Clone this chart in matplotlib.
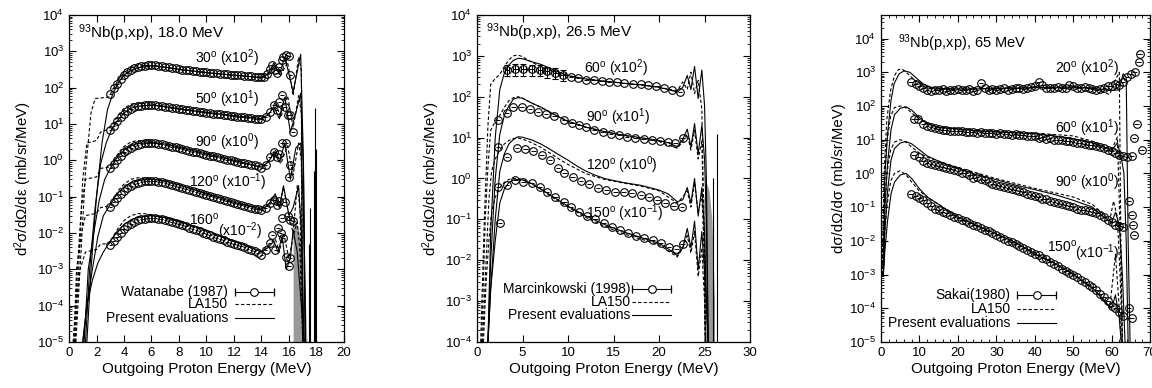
import numpy as np
import matplotlib
matplotlib.use('Agg')
import matplotlib.pyplot as plt
from matplotlib.ticker import LogLocator, NullFormatter, MultipleLocator

plt.rcParams['font.family'] = ['Liberation Sans', 'DejaVu Sans']
plt.rcParams['mathtext.default'] = 'regular'
plt.rcParams['axes.linewidth'] = 0.9

# ---------------- panel 1 : 93Nb(p,xp) 18.0 MeV, Watanabe (1987) ----------------
e1_grid = [3.0, 3.25, 3.5, 3.75, 4.0, 4.25, 4.5, 4.75, 5.0, 5.25, 5.5, 5.75, 6.0, 6.25, 6.5,
           6.75, 7.0, 7.25, 7.5, 7.75, 8.0, 8.25, 8.5, 8.75, 9.0, 9.25, 9.5, 9.75, 10.0, 10.25,
           10.5, 10.75, 11.0, 11.25, 11.5, 11.75, 12.0, 12.25, 12.5, 12.75, 13.0, 13.25, 13.5, 13.75, 14.0]
x1_30 = [68, 95, 130, 175, 220, 265, 310, 345, 370, 390, 405, 415, 420, 412, 400,
         385, 372, 360, 348, 337, 326, 315, 305, 298, 290, 283, 276, 270, 264, 258,
         252, 247, 242, 237, 232, 228, 224, 220, 216, 212, 208, 204, 200, 196, 193]
x1_50 = [6.8, 9, 12, 15.5, 19, 22.5, 26, 28.5, 30.5, 32, 33, 33.5, 33.5, 33, 32,
         31, 30, 29, 28, 27, 26, 25.2, 24.5, 23.8, 23, 22.3, 21.7, 21, 20.4, 19.8,
         19.3, 18.8, 18.3, 17.8, 17.3, 16.9, 16.5, 16, 15.6, 15.2, 14.8, 14.5, 14.1, 13.8, 13.5]
x1_90 = [0.6, 0.8, 1.05, 1.35, 1.65, 1.95, 2.25, 2.5, 2.7, 2.85, 2.95, 3.0, 3.0, 2.95, 2.85,
         2.75, 2.62, 2.5, 2.38, 2.26, 2.15, 2.04, 1.94, 1.84, 1.74, 1.65, 1.57, 1.49, 1.42, 1.35,
         1.28, 1.22, 1.16, 1.1, 1.05, 1.0, 0.95, 0.91, 0.87, 0.83, 0.79, 0.75, 0.72, 0.68, 0.62]
x1_120 = [0.053, 0.07, 0.09, 0.115, 0.14, 0.17, 0.2, 0.225, 0.245, 0.26, 0.27, 0.275, 0.275, 0.27, 0.26,
          0.25, 0.24, 0.225, 0.21, 0.198, 0.185, 0.173, 0.162, 0.151, 0.141, 0.132, 0.123, 0.115, 0.108, 0.101,
          0.095, 0.089, 0.084, 0.079, 0.074, 0.07, 0.066, 0.062, 0.059, 0.056, 0.053, 0.05, 0.047, 0.045, 0.042]
x1_160 = [0.0047, 0.0062, 0.008, 0.0102, 0.0128, 0.0155, 0.018, 0.0205, 0.0225, 0.024, 0.025, 0.026, 0.026, 0.0255, 0.025,
          0.024, 0.023, 0.0215, 0.02, 0.0188, 0.0176, 0.0164, 0.0152, 0.0141, 0.013, 0.012, 0.011, 0.0102, 0.0094, 0.0087,
          0.008, 0.0074, 0.0068, 0.0063, 0.0058, 0.0054, 0.005, 0.0046, 0.0043, 0.004, 0.0037, 0.0034, 0.0031, 0.0028, 0.0025]
# high-energy (discrete region) points
h1_30_e = [14.2, 14.4, 14.6, 14.8, 15.0, 15.1, 15.3, 15.5, 15.6, 15.8, 16.0, 16.1]
h1_30_v = [200, 240, 330, 420, 300, 250, 380, 560, 700, 780, 760, 230]
h1_50_e = [14.3, 14.6, 14.9, 15.1, 15.3, 15.5, 15.7, 15.9, 16.1, 16.3]
h1_50_v = [16, 22, 33, 24, 40, 63, 30, 18, 18, 6]
h1_90_e = [14.3, 14.6, 14.9, 15.1, 15.3, 15.5, 15.8, 16.0, 16.1]
h1_90_v = [0.75, 1.2, 1.7, 1.2, 1.5, 3.0, 3.0, 0.35, 0.75]
h1_120_e = [14.3, 14.6, 14.9, 15.1, 15.3, 15.5, 15.7, 15.9, 16.1, 16.3]
h1_120_v = [0.05, 0.065, 0.08, 0.06, 0.075, 0.026, 0.07, 0.03, 0.023, 0.022]
h1_160_e = [14.3, 14.6, 14.8, 15.0, 15.2, 15.4, 15.6, 15.8, 16.0, 16.1]
h1_160_v = [0.0035, 0.0052, 0.009, 0.0035, 0.0134, 0.01, 0.0072, 0.0022, 0.0012, 0.002]

la1_30_e = [0.5, 0.8, 1.2, 1.6, 1.9, 2.9, 3.2, 3.6, 4.0, 4.5, 5.0, 5.5, 6.0, 7.0, 8.0, 10.0, 12.0, 14.0, 14.6, 15.0, 15.4, 15.9, 16.3, 16.7, 16.9, 17.0]
la1_30_v = [1e-5, 1e-3, 0.5, 20, 50, 55, 90, 170, 260, 350, 400, 410, 400, 360, 320, 260, 220, 190, 260, 400, 220, 500, 60, 700, 300, 1e-5]
ev1_30_e = [1.3, 1.6, 2.0, 2.4, 2.8, 3.2, 3.6, 4.0, 4.5, 5.0, 6.0, 7.0, 8.0, 10.0, 12.0, 14.0, 14.5, 14.9, 15.3, 15.7, 16.3, 16.85, 17.05, 17.2]
ev1_30_v = [1e-5, 1e-3, 0.1, 3, 25, 70, 140, 220, 300, 350, 400, 365, 320, 260, 220, 190, 240, 480, 230, 700, 76, 830, 1, 1e-5]
la1_50_e = [0.45, 0.7, 1.0, 1.3, 2.0, 2.3, 2.8, 3.2, 3.6, 4.0, 4.5, 5.0, 5.5, 6.0, 8.0, 10.0, 12.0, 14.0, 14.6, 15.0, 15.4, 15.9, 16.3, 16.7, 16.9, 17.0]
la1_50_v = [1e-5, 1e-3, 0.3, 3, 3.5, 6, 7, 10, 18, 27, 35, 38, 37, 35, 27, 21, 17, 14, 20, 40, 15, 60, 8, 60, 20, 1e-5]
ev1_50_e = [1.2, 1.5, 1.9, 2.3, 2.7, 3.1, 3.5, 4.0, 4.5, 5.0, 6.0, 7.0, 8.0, 10.0, 12.0, 14.0, 14.5, 14.9, 15.3, 15.7, 16.1, 16.5, 16.85, 17.05, 17.2]
ev1_50_v = [1e-5, 1e-3, 0.05, 0.8, 3, 7, 12, 20, 27, 31, 33, 30, 26, 21, 17, 14, 18, 30, 14, 55, 6, 20, 70, 0.5, 1e-5]
la1_90_e = [0.4, 0.6, 0.9, 1.2, 2.0, 2.3, 2.9, 3.2, 3.6, 4.0, 4.5, 5.0, 5.5, 6.0, 8.0, 10.0, 12.0, 14.0, 14.6, 15.0, 15.4, 15.9, 16.3, 16.7, 16.9, 17.0]
la1_90_v = [1e-5, 1e-3, 0.05, 0.3, 0.35, 0.6, 0.65, 0.9, 1.6, 2.4, 3.2, 3.5, 3.4, 3.2, 2.3, 1.5, 1.0, 0.65, 1.0, 2.0, 0.8, 2.5, 0.4, 3, 1, 1e-5]
ev1_90_e = [1.1, 1.4, 1.8, 2.2, 2.6, 3.0, 3.5, 4.0, 4.5, 5.0, 6.0, 7.0, 8.0, 10.0, 12.0, 14.0, 14.5, 14.9, 15.3, 15.7, 16.1, 16.5, 16.85, 17.05, 17.2]
ev1_90_v = [1e-5, 1e-3, 0.01, 0.08, 0.3, 0.6, 1.2, 1.9, 2.5, 2.9, 3.1, 2.8, 2.3, 1.5, 1.0, 0.65, 0.9, 1.6, 0.9, 3.0, 0.3, 2.2, 3.0, 0.05, 1e-5]
la1_120_e = [0.35, 0.55, 0.9, 1.2, 2.0, 2.3, 2.9, 3.2, 3.6, 4.0, 4.5, 5.0, 5.5, 6.0, 8.0, 10.0, 12.0, 14.0, 14.6, 15.0, 15.3, 15.6, 16.0, 16.3, 16.6, 16.8, 17.0]
la1_120_v = [1e-5, 1e-3, 0.01, 0.03, 0.035, 0.05, 0.055, 0.08, 0.15, 0.22, 0.3, 0.33, 0.33, 0.31, 0.21, 0.12, 0.07, 0.045, 0.06, 0.1, 0.05, 0.18, 0.03, 0.01, 0.2, 0.05, 1e-5]
ev1_120_e = [1.0, 1.3, 1.7, 2.1, 2.5, 3.0, 3.5, 4.0, 4.5, 5.0, 6.0, 7.0, 8.0, 10.0, 12.0, 14.0, 14.5, 15.0, 15.3, 15.6, 16.0, 16.3, 16.7, 16.9, 17.1]
ev1_120_v = [1e-5, 1e-4, 1e-3, 0.008, 0.03, 0.06, 0.12, 0.18, 0.24, 0.28, 0.3, 0.27, 0.21, 0.12, 0.07, 0.045, 0.06, 0.12, 0.05, 0.2, 0.03, 0.05, 0.2, 0.01, 1e-5]
la1_160_e = [0.3, 0.5, 0.8, 1.2, 2.0, 2.3, 2.9, 3.2, 3.6, 4.0, 4.5, 5.0, 5.5, 6.0, 8.0, 10.0, 12.0, 14.0, 14.6, 15.0, 15.3, 15.6, 16.0, 16.3, 16.6, 16.8, 17.0]
la1_160_v = [1e-5, 1e-4, 1e-3, 0.003, 0.0035, 0.005, 0.005, 0.008, 0.014, 0.022, 0.03, 0.034, 0.034, 0.031, 0.02, 0.011, 0.0058, 0.003, 0.005, 0.007, 0.003, 0.01, 0.002, 0.008, 0.02, 0.003, 1e-5]
ev1_160_e = [1.0, 1.3, 1.7, 2.1, 2.5, 3.0, 3.5, 4.0, 4.5, 5.0, 6.0, 7.0, 8.0, 10.0, 12.0, 14.0, 14.5, 14.9, 15.2, 15.5, 15.8, 16.1, 16.3, 16.6, 16.9, 17.1]
ev1_160_v = [1e-5, 1e-4, 5e-4, 0.0015, 0.003, 0.006, 0.011, 0.017, 0.023, 0.027, 0.03, 0.027, 0.021, 0.012, 0.006, 0.003, 0.004, 0.006, 0.003, 0.008, 0.001, 0.002, 0.012, 0.003, 1e-4, 1e-5]
band1_e = [16.3, 16.5, 16.7, 16.9, 17.1, 17.3]
band1_top = [0.03, 0.02, 0.012, 0.005, 1e-3, 1e-5]
spike1_e = [17.45, 17.55, 17.8, 17.9, 17.95]
spike1_top = [5e-3, 0.05, 0.5, 28, 2]

# ---------------- panel 2 : 26.5 MeV, Marcinkowski (1998) ----------------
x2_60_e = [3.3, 4.2, 5.1, 6.0, 6.9, 7.7, 8.6, 9.4, 10.3, 11.1, 12.0, 12.8, 13.7, 14.5, 15.4, 16.2, 17.1, 18.0, 18.8, 19.7, 20.5, 21.4, 22.3]
x2_60_v = [455, 480, 480, 470, 450, 420, 380, 340, 300, 280, 260, 250, 240, 235, 230, 220, 210, 200, 190, 180, 160, 145, 130]
x2_60_dy = [140, 150, 150, 140, 135, 125, 115, 100]
x2_90_e = [2.3, 3.3, 4.0, 4.9, 5.8, 6.7, 7.6, 8.5, 9.6, 10.4, 11.2, 12.0, 12.9, 13.8, 14.7, 15.6, 16.5, 17.4, 18.3, 19.2, 20.1, 21.0, 21.8, 22.6]
x2_90_v = [27, 40, 57, 55, 49, 43, 38, 33, 27, 23, 20, 18, 15.5, 14, 12.5, 11.5, 10.5, 9.8, 9.2, 8.6, 8.2, 7.8, 7.5, 10]
x2_120_e = [2.3, 3.3, 4.4, 5.3, 6.2, 7.1, 8.0, 8.9, 9.6, 10.5, 11.4, 12.3, 13.3, 14.2, 15.2, 16.1, 17.0, 18.0, 18.9, 19.8, 20.7, 21.6, 22.5]
x2_120_v = [6, 3.4, 5.5, 5.2, 4.7, 3.8, 2.8, 1.8, 1.35, 1.1, 0.85, 0.72, 0.6, 0.52, 0.48, 0.46, 0.44, 0.4, 0.36, 0.3, 0.25, 0.21, 0.2]
x2_150_e = [2.3, 2.5, 3.3, 4.2, 5.1, 6.0, 6.9, 7.7, 8.6, 9.6, 10.3, 11.2, 12.1, 13.0, 13.9, 14.8, 15.7, 16.6, 17.5, 18.4, 19.3, 20.2, 21.1, 21.9, 22.6]
x2_150_v = [0.63, 0.08, 0.69, 0.93, 0.83, 0.78, 0.62, 0.48, 0.36, 0.27, 0.2, 0.155, 0.12, 0.1, 0.08, 0.066, 0.055, 0.046, 0.04, 0.035, 0.031, 0.027, 0.021, 0.019, 0.025]

ev2_e = [1.2, 1.5, 2.0, 2.5, 3.0, 3.5, 4.0, 4.5, 5.0, 6.0, 7.0, 8.0, 9.0, 10.0, 12.0, 14.0, 16.0, 18.0, 20.0, 21.0, 22.0, 22.6, 23.1, 23.5, 23.9, 24.3, 24.7, 25.0, 25.2, 25.4]
ev2_60_v = [1e-4, 0.05, 10, 150, 380, 600, 780, 870, 850, 720, 620, 500, 400, 330, 270, 240, 215, 195, 170, 150, 130, 170, 330, 150, 550, 90, 450, 60, 1, 1e-4]
ev2_90_v = [1e-4, 0.01, 1, 12, 35, 60, 88, 95, 92, 70, 56, 42, 32, 25, 18, 14, 11.5, 10, 8.5, 7.5, 6, 9, 16, 6, 22, 4, 20, 3, 0.1, 1e-4]
ev2_150_v = [1e-4, 2e-3, 0.03, 0.25, 0.55, 0.8, 0.92, 0.95, 0.92, 0.75, 0.55, 0.4, 0.29, 0.21, 0.12, 0.075, 0.05, 0.036, 0.026, 0.019, 0.013, 0.02, 0.06, 0.02, 0.09, 0.006, 0.05, 0.005, 1e-3, 1e-4]
ev2_120_e = [1.2, 1.5, 2.0, 2.5, 3.0, 3.5, 4.0, 4.5, 5.0, 6.0, 7.0, 8.0, 9.0, 10.0, 11.0, 12.0, 13.0, 14.0, 16.0, 18.0, 20.0, 21.0, 22.0, 22.6, 23.1, 23.5, 23.9, 24.3, 24.7, 25.0, 25.2, 25.4]
ev2_120_v = [1e-4, 2e-3, 0.1, 1.5, 4, 7, 9, 10.5, 10.2, 8.8, 7, 5.2, 3.8, 2.8, 2.0, 1.5, 1.2, 1.0, 0.8, 0.68, 0.52, 0.42, 0.27, 0.3, 0.6, 0.25, 1.0, 0.12, 0.6, 0.05, 1e-3, 1e-4]
la2_60_e = [0.4, 0.8, 1.2, 1.5, 2.0, 2.5, 3.0, 3.5, 4.0, 4.5, 5.0, 6.0, 7.0, 8.0, 9.0, 10.0, 12.0, 14.0, 16.0, 18.0, 20.0, 22.0, 22.6, 23.1, 23.5, 23.9, 24.3, 24.7, 25.0, 25.1]
la2_60_v = [1e-4, 0.1, 20, 200, 280, 350, 550, 800, 1000, 1050, 950, 700, 550, 450, 380, 320, 270, 240, 215, 195, 170, 140, 230, 150, 400, 120, 250, 50, 1e-2, 1e-4]
la2_90_e = [0.5, 0.9, 1.2, 1.5, 2.0, 2.5, 3.0, 3.5, 4.0, 4.5, 5.0, 6.0, 7.0, 8.0, 9.0, 10.0, 12.0, 14.0, 16.0, 18.0, 20.0, 22.0, 22.6, 23.1, 23.5, 23.9, 24.3, 24.7, 25.0, 25.1]
la2_90_v = [1e-4, 0.1, 2, 15, 25, 35, 55, 80, 95, 100, 92, 70, 55, 42, 32, 25, 18, 14, 11.5, 9.5, 8, 5.5, 8, 12, 5, 15, 3, 8, 0.01, 1e-4]
la2_120_e = [0.6, 1.0, 1.3, 1.6, 2.0, 2.5, 3.0, 3.5, 4.0, 4.5, 5.0, 6.0, 7.0, 8.0, 9.0, 10.0, 12.0, 14.0, 16.0, 18.0, 20.0, 22.0, 22.6, 23.1, 23.5, 23.9, 24.3, 24.7, 25.0, 25.1]
la2_120_v = [1e-4, 0.01, 0.3, 1.5, 3, 5, 7, 8.5, 9.5, 9.8, 9.2, 7.5, 5.8, 4.2, 3.0, 2.2, 1.3, 0.95, 0.78, 0.65, 0.5, 0.25, 0.35, 0.5, 0.2, 0.8, 0.15, 0.4, 0.01, 1e-4]
la2_150_e = [0.7, 1.0, 1.3, 1.6, 2.0, 2.5, 3.0, 3.5, 4.0, 4.5, 5.0, 6.0, 7.0, 8.0, 9.0, 10.0, 12.0, 14.0, 16.0, 18.0, 20.0, 22.0, 22.6, 23.1, 23.5, 23.9, 24.3, 24.7, 25.0, 25.1]
la2_150_v = [1e-4, 3e-3, 0.03, 0.15, 0.35, 0.6, 0.8, 0.95, 1.0, 1.0, 0.95, 0.75, 0.55, 0.38, 0.27, 0.2, 0.11, 0.068, 0.045, 0.033, 0.024, 0.012, 0.02, 0.04, 0.015, 0.05, 0.004, 0.02, 1e-3, 1e-4]
band2_e = [24.9, 25.2, 25.5, 25.8, 26.1]
band2_top = [0.3, 0.8, 0.5, 0.1, 1e-3]
spike2_e = [25.9, 26.4]
spike2_top = [1.0, 12]

# ---------------- panel 3 : 65 MeV, Sakai (1980) ----------------
x3_20_e = [7.7, 9, 10, 11, 12, 13, 14, 15, 16, 17, 18, 19, 20, 21, 22, 23, 24, 25, 26, 27, 28, 29, 30,
           31, 32, 33, 34, 35, 36, 37, 38, 39, 40, 41, 42, 43, 44, 45, 46, 47, 48, 49, 50,
           51, 52, 53, 54, 55, 56, 57, 58, 59, 60, 61, 62, 63, 64, 65, 66, 67, 67.3]
x3_20_v = [520, 450, 380, 330, 300, 280, 300, 290, 310, 280, 300, 290, 320, 300, 290, 310, 280, 300, 480, 330, 300, 320, 290,
           310, 330, 300, 320, 340, 330, 310, 350, 360, 400, 500, 420, 340, 330, 350, 370, 330, 340, 420, 380,
           350, 340, 360, 330, 310, 300, 320, 350, 400, 380, 450, 420, 500, 700, 900, 1000, 2000, 3500]
x3_60_e = [8.5, 9.5, 11, 12, 13, 14, 15, 16, 17, 18, 19, 20, 21, 22, 23, 24, 25, 26, 27, 28, 29, 30,
           31, 32, 33, 34, 35, 36, 37, 38, 39, 40, 41, 42, 43, 44, 45, 46, 47, 48, 49, 50,
           51, 52, 53, 54, 55, 56, 57, 58, 59, 60, 61, 62, 63, 64, 65.2, 65.8, 66.5, 67.8]
x3_60_v = [42, 40, 30, 26, 24, 22, 21, 20, 19, 18.5, 18, 17.5, 18, 17, 16.5, 17, 16, 17, 16, 15.5, 15.5, 15,
           15.5, 14.5, 15, 14, 14.5, 14, 13.5, 13, 13, 12.5, 11, 12, 10.5, 11, 10, 9.5, 10, 9, 9, 8.5,
           8, 8, 7.5, 7, 7, 6.5, 6, 5.5, 5, 4.5, 4, 3.5, 3.2, 3.0, 3.2, 11, 30, 5]
x3_90_e = [8.5, 9.8, 11, 12, 13, 14, 15, 16, 17, 18, 19, 20, 21, 22, 23, 24, 25, 26, 27, 28, 29, 30,
           31, 32, 33, 34, 35, 36, 37, 38, 39, 40, 41, 42, 43, 44, 45, 46, 47, 48, 49, 50,
           51, 52, 53, 54, 55, 56, 57, 58, 59, 60, 61, 62, 63, 64.5, 65.2, 65.5, 65.8]
x3_90_v = [3.5, 3.0, 2.4, 2.1, 1.95, 1.8, 1.7, 1.55, 1.45, 1.35, 1.25, 1.15, 1.05, 1.0, 0.9, 0.72, 0.78, 0.7, 0.62, 0.55, 0.5, 0.45,
           0.42, 0.4, 0.37, 0.34, 0.32, 0.3, 0.28, 0.25, 0.23, 0.21, 0.2, 0.18, 0.17, 0.15, 0.14, 0.13, 0.12, 0.115, 0.105, 0.1,
           0.09, 0.085, 0.08, 0.075, 0.07, 0.065, 0.06, 0.05, 0.042, 0.035, 0.03, 0.027, 0.026, 0.15, 0.06, 0.03, 0.015]
x3_150_e = [7.7, 9, 10, 11, 12, 13, 14, 15, 16, 17, 18, 19, 20, 21, 22, 23, 24, 25, 26, 27, 28, 29, 30,
            31, 32, 33, 34, 35, 36, 37, 38, 39, 40, 41, 42, 43, 44, 45, 46, 47, 48, 49, 50,
            51, 52, 53, 54, 55, 56, 57, 58, 59, 60, 61, 62, 63, 64.5, 65.2]
x3_150_v = [0.25, 0.22, 0.19, 0.16, 0.13, 0.11, 0.09, 0.08, 0.07, 0.065, 0.058, 0.052, 0.046, 0.042, 0.038, 0.034, 0.03, 0.027, 0.024, 0.021, 0.019, 0.017, 0.0145,
            0.013, 0.0115, 0.0102, 0.009, 0.008, 0.007, 0.006, 0.0053, 0.0047, 0.0042, 0.0037, 0.0032, 0.0028, 0.0024, 0.0021, 0.0018, 0.0015, 0.0013, 0.0011, 0.00095,
            0.00082, 0.0007, 0.0006, 0.0005, 0.00042, 0.00034, 0.00027, 0.00021, 0.00016, 0.00012, 0.0001, 8e-5, 6e-5, 1e-4, 5e-5]

ev3_20_e = [0.6, 1.0, 1.7, 2.6, 3.4, 4.7, 6.0, 7.5, 9, 11, 13, 15, 20, 25, 30, 35, 40, 45, 50, 55, 58, 60, 62, 63, 63.8, 64.3, 64.8]
ev3_20_v = [1e-3, 1, 15, 150, 460, 900, 1100, 1000, 700, 450, 360, 330, 320, 320, 330, 340, 350, 360, 360, 340, 300, 290, 300, 900, 700, 1e-2, 1e-5]
la3_20_e = [0.3, 0.8, 1.5, 2.5, 3.5, 4.5, 5.5, 7, 9, 11, 13, 15, 20, 30, 40, 50, 55, 58, 59.5, 61, 62, 62.4, 62.8]
la3_20_v = [1e-3, 1, 40, 300, 800, 1200, 1250, 900, 550, 380, 330, 310, 310, 330, 350, 370, 340, 250, 220, 600, 1000, 1e-2, 1e-5]
ev3_60_e = [0.6, 1.0, 1.7, 2.6, 3.5, 5, 6.5, 8, 10, 12, 15, 20, 25, 30, 35, 40, 45, 50, 55, 58, 60, 61.5, 62.5, 63.2, 63.8, 64.3]
ev3_60_v = [1e-3, 0.1, 2, 20, 55, 85, 95, 75, 45, 30, 23, 21, 18, 17, 16, 15, 13, 10.7, 8, 6, 4.8, 8, 3, 1, 1e-2, 1e-5]
la3_60_e = [0.3, 0.8, 1.5, 2.5, 3.5, 5, 6.5, 8, 10, 12, 15, 20, 30, 40, 50, 55, 58, 60, 61.5, 62.3, 62.8]
la3_60_v = [1e-3, 0.3, 8, 50, 90, 100, 88, 62, 40, 30, 23, 20, 17, 15.5, 13, 9, 6.5, 5, 12, 1e-2, 1e-5]
ev3_90_e = [0.6, 1.0, 1.7, 2.6, 3.5, 5, 6.5, 8, 10, 12, 15, 20, 25, 30, 35, 40, 45, 50, 55, 58, 60, 61, 62, 62.8, 63.5]
ev3_90_v = [1e-3, 0.02, 0.3, 2.5, 5.5, 8, 8.8, 7.5, 5, 3.3, 2.3, 1.4, 0.9, 0.65, 0.45, 0.33, 0.24, 0.16, 0.1, 0.05, 0.035, 0.07, 0.03, 1e-3, 1e-5]
la3_90_e = [0.3, 0.8, 1.5, 2.5, 3.5, 5, 6.5, 8, 10, 12, 15, 20, 30, 40, 50, 55, 58, 59.5, 60.5, 61.5, 62.2, 62.8]
la3_90_v = [1e-3, 0.05, 1, 5, 8.5, 10, 8.5, 6, 4, 3, 2.3, 1.5, 0.7, 0.36, 0.2, 0.12, 0.06, 0.04, 0.15, 0.05, 1e-3, 1e-5]
ev3_150_e = [0.6, 1.0, 1.7, 2.6, 3.5, 5, 6.5, 8, 10, 12, 15, 20, 25, 30, 35, 40, 45, 50, 55, 58, 60, 61, 62, 62.5]
ev3_150_v = [1e-3, 0.005, 0.04, 0.25, 0.55, 0.9, 1.0, 0.7, 0.35, 0.2, 0.12, 0.05, 0.028, 0.016, 0.009, 0.004, 0.0022, 0.001, 4e-4, 1.7e-4, 1e-4, 2.5e-4, 5e-5, 1e-5]
la3_150_e = [0.3, 0.8, 1.5, 2.5, 3.5, 5, 6.5, 8, 10, 12, 15, 20, 30, 40, 50, 55, 58, 59.5, 61, 62, 62.5]
la3_150_v = [1e-3, 0.01, 0.1, 0.6, 1.0, 1.2, 0.9, 0.55, 0.3, 0.2, 0.12, 0.05, 0.016, 0.0045, 0.0011, 4e-4, 1.8e-4, 1e-4, 4e-3, 1e-4, 1e-5]

FS = 10


def exp_pts(ax, e, v, dx, dy=None):
    ax.errorbar(e, v, xerr=dx, yerr=dy, fmt='o', ms=5.5, mfc='none', mec='k', mew=0.8,
                ecolor='k', elinewidth=0.7, capsize=2 if dy is not None else 0, zorder=3)


def curves(ax, la_e, la_v, ev_e, ev_v):
    ax.plot(la_e, la_v, color='k', lw=0.8, ls=(0, (3, 2)), zorder=2)
    ax.plot(ev_e, ev_v, color='k', lw=0.8, zorder=2)


def key(ax, exp_name, xt, xh0, xh1, ys):
    names = [exp_name, 'LA150', 'Present evaluations']
    for name, y in zip(names, ys):
        ax.text(xt, y, name, transform=ax.transAxes, ha='right', va='center', fontsize=FS)
    y0, y1, y2 = ys
    ax.plot([xh0, xh1], [y0, y0], 'k-', lw=0.8, transform=ax.transAxes)
    ax.plot([xh0, xh1], [y0, y0], 'k|', ms=6, mew=0.9, transform=ax.transAxes)
    ax.plot([(xh0 + xh1) / 2], [y0], 'o', ms=5.5, mfc='white', mec='k', mew=0.8, transform=ax.transAxes)
    ax.plot([xh0, xh1], [y1, y1], color='k', lw=0.8, ls=(0, (3, 2)), transform=ax.transAxes)
    ax.plot([xh0, xh1], [y2, y2], color='k', lw=0.8, transform=ax.transAxes)


def style(ax, xmax, xmaj, xmin, ylo, yhi, ylabel):
    ax.set_yscale('log')
    ax.set_xlim(0, xmax)
    ax.set_ylim(ylo, yhi)
    ax.xaxis.set_major_locator(MultipleLocator(xmaj))
    if xmin:
        ax.xaxis.set_minor_locator(MultipleLocator(xmin))
    ax.yaxis.set_major_locator(LogLocator(base=10, numticks=30))
    ax.yaxis.set_minor_locator(LogLocator(base=10, subs=np.arange(2, 10), numticks=300))
    ax.yaxis.set_minor_formatter(NullFormatter())
    ax.tick_params(which='both', direction='in', top=True, right=True, labelsize=FS - 0.5)
    ax.tick_params(which='major', length=5, width=0.8)
    ax.tick_params(which='minor', length=2.5, width=0.6)
    ax.set_xlabel('Outgoing Proton Energy (MeV)', fontsize=11, labelpad=2)
    ax.set_ylabel(ylabel, fontsize=10.8, labelpad=2)


fig = plt.figure(figsize=(11.52, 3.88), dpi=100)
ax1 = fig.add_axes([0.0599, 0.1186, 0.2387, 0.8428])
ax2 = fig.add_axes([0.4141, 0.1186, 0.2370, 0.8428])
ax3 = fig.add_axes([0.7648, 0.1186, 0.2335, 0.8428])

# ---- panel 1
ax1.fill_between(band1_e, 1e-5, band1_top, color='0.6', lw=0)
ax1.vlines(spike1_e, 1e-5, spike1_top, color='k', lw=0.8)
for la_e, la_v, ev_e, ev_v in [(la1_30_e, la1_30_v, ev1_30_e, ev1_30_v), (la1_50_e, la1_50_v, ev1_50_e, ev1_50_v),
                               (la1_90_e, la1_90_v, ev1_90_e, ev1_90_v), (la1_120_e, la1_120_v, ev1_120_e, ev1_120_v),
                               (la1_160_e, la1_160_v, ev1_160_e, ev1_160_v)]:
    curves(ax1, la_e, la_v, ev_e, ev_v)
for vals, he, hv in [(x1_30, h1_30_e, h1_30_v), (x1_50, h1_50_e, h1_50_v), (x1_90, h1_90_e, h1_90_v),
                     (x1_120, h1_120_e, h1_120_v), (x1_160, h1_160_e, h1_160_v)]:
    exp_pts(ax1, e1_grid + he, vals + hv, 0.12)
style(ax1, 20, 2, None, 1e-5, 1e4, r'd$^2$σ/dΩ/dε (mb/sr/MeV)')
ax1.text(0.68, 10**3.5, r'$^{93}$Nb(p,xp), 18.0 MeV', fontsize=11, va='center')
ax1.text(9.16, 10**2.81, r'30$^o$ (x10$^2$)', fontsize=FS, va='center')
ax1.text(9.16, 10**1.68, r'50$^o$ (x10$^1$)', fontsize=FS, va='center')
ax1.text(9.16, 10**0.51, r'90$^o$ (x10$^0$)', fontsize=FS, va='center')
ax1.text(8.75, 10**-0.59, r'120$^o$ (x10$^{-1}$)', fontsize=FS, va='center')
ax1.text(8.75, 10**-1.64, r'160$^o$', fontsize=FS, va='center')
ax1.text(10.86, 10**-1.95, r'(x10$^{-2}$)', fontsize=FS, va='center')
key(ax1, 'Watanabe (1987)', 0.579, 0.604, 0.745, [0.154, 0.116, 0.072])

# ---- panel 2
ax2.fill_between(band2_e, 1e-4, band2_top, color='0.6', lw=0)
ax2.vlines(spike2_e, 1e-4, spike2_top, color='k', lw=0.8)
curves(ax2, la2_60_e, la2_60_v, ev2_e, ev2_60_v)
curves(ax2, la2_90_e, la2_90_v, ev2_e, ev2_90_v)
curves(ax2, la2_120_e, la2_120_v, ev2_120_e, ev2_120_v)
curves(ax2, la2_150_e, la2_150_v, ev2_e, ev2_150_v)
n_err = len(x2_60_dy)
exp_pts(ax2, x2_60_e[:n_err], x2_60_v[:n_err], 0.25, x2_60_dy)
exp_pts(ax2, x2_60_e[n_err:], x2_60_v[n_err:], 0.25)
exp_pts(ax2, x2_90_e, x2_90_v, 0.25)
exp_pts(ax2, x2_120_e, x2_120_v, 0.25)
exp_pts(ax2, x2_150_e, x2_150_v, 0.25)
style(ax2, 30, 5, None, 1e-4, 1e4, r'd$^2$σ/dΩ/dε (mb/sr/MeV)')
ax2.text(0.95, 10**3.59, r'$^{93}$Nb(p,xp), 26.5 MeV', fontsize=11, va='center')
ax2.text(11.76, 10**2.70, r'60$^o$ (x10$^2$)', fontsize=FS, va='center')
ax2.text(11.94, 10**1.51, r'90$^o$ (x10$^1$)', fontsize=FS, va='center')
ax2.text(11.94, 10**0.33, r'120$^o$ (x10$^0$)', fontsize=FS, va='center')
ax2.text(11.94, 10**-0.85, r'150$^o$ (x10$^{-1}$)', fontsize=FS, va='center')
key(ax2, 'Marcinkowski (1998)', 0.563, 0.569, 0.709, [0.161, 0.123, 0.083])

# ---- panel 3
curves(ax3, la3_20_e, la3_20_v, ev3_20_e, ev3_20_v)
curves(ax3, la3_60_e, la3_60_v, ev3_60_e, ev3_60_v)
curves(ax3, la3_90_e, la3_90_v, ev3_90_e, ev3_90_v)
curves(ax3, la3_150_e, la3_150_v, ev3_150_e, ev3_150_v)
exp_pts(ax3, x3_20_e, x3_20_v, 0.6)
exp_pts(ax3, x3_60_e, x3_60_v, 0.6)
exp_pts(ax3, x3_90_e, x3_90_v, 0.6)
exp_pts(ax3, x3_150_e, x3_150_v, 0.6)
style(ax3, 70, 10, 2, 1e-5, 5e4, 'dσ/dΩ/dσ (mb/sr/MeV)')
ax3.text(4.3, 10**3.85, r'$^{93}$Nb(p,xp), 65 MeV', fontsize=10.5, va='center')
ax3.text(45.2, 10**3.11, r'20$^o$ (x10$^2$)', fontsize=FS, va='center')
ax3.text(45.2, 10**1.33, r'60$^o$ (x10$^1$)', fontsize=FS, va='center')
ax3.text(45.2, 10**-0.26, r'90$^o$ (x10$^0$)', fontsize=FS, va='center')
ax3.text(43.3, 10**-2.18, r'150$^o$', fontsize=FS, va='center')
ax3.text(50.4, 10**-2.36, r'(x10$^{-1}$)', fontsize=FS, va='center')
key(ax3, 'Sakai(1980)', 0.482, 0.507, 0.652, [0.144, 0.101, 0.059])

fig.savefig('out.png', dpi=100)
